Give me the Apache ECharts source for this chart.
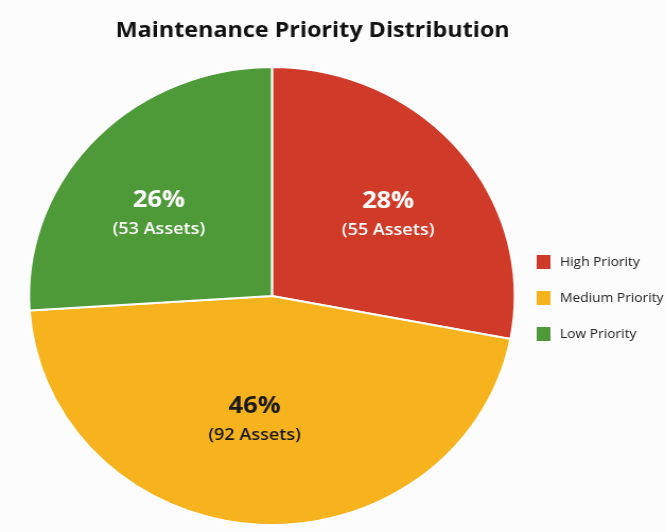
<!DOCTYPE html>
<html>
<head>
<meta charset="utf-8">
<script src="https://cdn.jsdelivr.net/npm/echarts@6/dist/echarts.min.js"></script>
<style>
  html, body { margin: 0; padding: 0; background: #fcfcfc; overflow: hidden; }
  #main { width: 627px; height: 532px; transform: scaleX(1.0606); transform-origin: 0 0; }
</style>
</head>
<body>
<div id="main"></div>
<script>
const categories = ['High Priority', 'Medium Priority', 'Low Priority'];
const percentages = [28, 46, 26];
const assetCounts = [55, 92, 53];
const sliceColors = ['#D03A28', '#F6B31E', '#4E9A38'];
const labelColors = ['#ffffff', '#1a1a1a', '#ffffff'];

const FONT = '"Open Sans", "Noto Sans", sans-serif';
const labelShift = [[19, -8], [-9, 5], [-21, -3]];

const chart = echarts.init(document.getElementById('main'), null, { renderer: 'canvas' });

const pieData = categories.map((name, i) => ({
  name: name,
  value: percentages[i],
  itemStyle: { color: sliceColors[i] },
  label: {
    rich: {
      p: { fontSize: 24, fontWeight: 'bold', color: labelColors[i], fontFamily: FONT, lineHeight: 34 },
      a: { fontSize: 17, fontWeight: 600, color: labelColors[i], fontFamily: FONT, lineHeight: 24 }
    }
  }
}));

chart.setOption({
  backgroundColor: '#fcfcfc',
  animation: false,
  title: {
    text: 'Maintenance Priority Distribution',
    left: 104,
    top: 15,
    padding: 5,
    textStyle: { fontFamily: FONT, fontSize: 22, fontWeight: 'bold', color: '#111111' }
  },
  legend: {
    data: categories,
    orient: 'vertical',
    left: 499,
    top: 248,
    itemWidth: 15,
    itemHeight: 16,
    itemGap: 18,
    icon: 'rect',
    textStyle: { fontFamily: FONT, fontSize: 13, color: '#222222', padding: [0, 0, 0, 3] }
  },
  series: [{
    type: 'pie',
    center: [256.4, 296],
    radius: 229,
    startAngle: 90,
    clockwise: true,
    avoidLabelOverlap: false,
    itemStyle: { borderColor: '#ffffff', borderWidth: 2 },
    label: {
      show: true,
      position: 'inside',
      formatter: function (p) {
        return '{p|' + percentages[p.dataIndex] + '%}\n{a|(' + assetCounts[p.dataIndex] + ' Assets)}';
      }
    },
    labelLayout: function (params) {
      const s = labelShift[params.dataIndex];
      return { dx: s[0], dy: s[1] };
    },
    labelLine: { show: false },
    emphasis: { disabled: true },
    data: pieData
  }]
});
</script>
</body>
</html>
